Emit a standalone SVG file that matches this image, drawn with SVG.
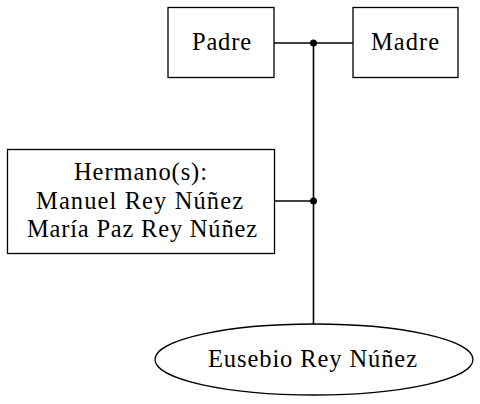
<svg xmlns="http://www.w3.org/2000/svg" width="480" height="404" viewBox="0 0 480 404">
<style>
.n{fill:#fff;stroke:#000;stroke-width:1.3}
.t{font-family:"Liberation Serif","Times New Roman",serif;font-size:24.5px;text-anchor:middle;fill:#000}
.e{fill:none;stroke:#000;stroke-width:1.6}
.d{fill:#000}
</style>
<rect width="480" height="404" fill="#fff"/>
<g id="connectors">
<line class="e" x1="274" y1="43" x2="353" y2="43"/>
<line class="e" x1="275" y1="201" x2="313.5" y2="201"/>
<line class="e" x1="313.5" y1="43" x2="313.5" y2="324"/>
<circle class="d" cx="313.5" cy="43" r="3.5"/>
<circle class="d" cx="313.5" cy="201" r="3.5"/>
</g>
<g id="padre">
<rect class="n" x="168" y="7.5" width="106" height="70"/>
<text class="t" x="221.5" y="50" textLength="59" lengthAdjust="spacing">Padre</text>
</g>
<g id="madre">
<rect class="n" x="353" y="7.5" width="105" height="70"/>
<text class="t" x="405" y="50" textLength="68" lengthAdjust="spacing">Madre</text>
</g>
<g id="hermanos">
<rect class="n" x="7.5" y="149.5" width="267" height="104"/>
<text class="t" x="140.5" y="180" textLength="133" lengthAdjust="spacing">Hermano(s):</text>
<text class="t" x="139.5" y="208.5" textLength="207" lengthAdjust="spacing">Manuel Rey Núñez</text>
<text class="t" x="142" y="237" textLength="230" lengthAdjust="spacing">María Paz Rey Núñez</text>
</g>
<g id="eusebio">
<ellipse class="n" cx="314" cy="359.5" rx="159" ry="35.5"/>
<text class="t" x="312.5" y="367" textLength="209" lengthAdjust="spacing">Eusebio Rey Núñez</text>
</g>
</svg>
